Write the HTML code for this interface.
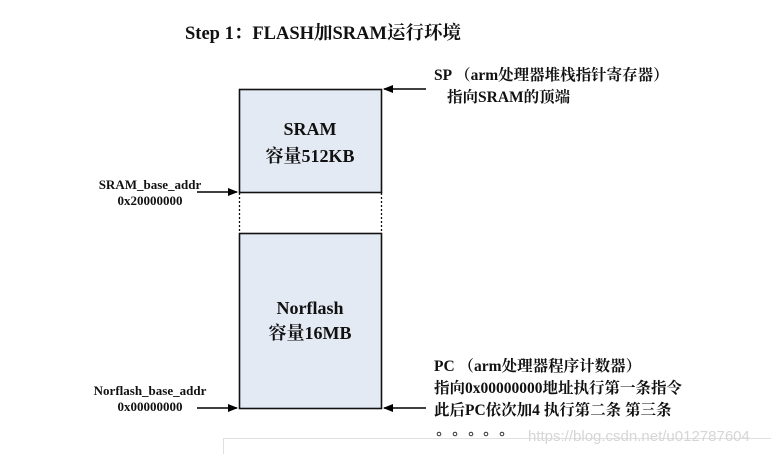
<!DOCTYPE html>
<html><head><meta charset="utf-8"><style>
html,body{margin:0;padding:0;background:#fff;}
svg text{font-family:"Liberation Serif","Noto Serif CJK SC",serif;font-weight:bold;fill:#111;}
</style></head><body>
<svg width="771" height="454" viewBox="0 0 771 454" xmlns="http://www.w3.org/2000/svg">
<defs><marker id="a" markerWidth="10" markerHeight="8" refX="9" refY="4" orient="auto" markerUnits="userSpaceOnUse"><path d="M0,0 L10,4 L0,8 Z" fill="#000"/></marker></defs>
<text x="185" y="39" font-size="18.5">Step 1：FLASH加SRAM运行环境</text>
<rect x="239.5" y="89.5" width="142" height="103" fill="#e4eaf4" stroke="#111" stroke-width="1.6"/>
<rect x="239.5" y="233.5" width="142" height="175" fill="#e4eaf4" stroke="#111" stroke-width="1.6"/>
<line x1="239.5" y1="193" x2="239.5" y2="233" stroke="#111" stroke-width="1.3" stroke-dasharray="2,2"/>
<line x1="381.5" y1="193" x2="381.5" y2="233" stroke="#111" stroke-width="1.3" stroke-dasharray="2,2"/>
<text x="310" y="135" font-size="18" text-anchor="middle">SRAM</text>
<text x="310" y="162" font-size="18" text-anchor="middle">容量512KB</text>
<text x="310" y="314" font-size="18" text-anchor="middle">Norflash</text>
<text x="310" y="339" font-size="18" text-anchor="middle">容量16MB</text>
<line x1="197" y1="192" x2="237" y2="192" stroke="#000" stroke-width="1.5" marker-end="url(#a)"/>
<line x1="197" y1="408" x2="237" y2="408" stroke="#000" stroke-width="1.5" marker-end="url(#a)"/>
<line x1="426" y1="89" x2="384" y2="89" stroke="#000" stroke-width="1.5" marker-end="url(#a)"/>
<line x1="426" y1="408" x2="384" y2="408" stroke="#000" stroke-width="1.5" marker-end="url(#a)"/>
<text x="150" y="189" font-size="13" text-anchor="middle">SRAM_base_addr</text>
<text x="150" y="205" font-size="13" text-anchor="middle">0x20000000</text>
<text x="150" y="395" font-size="13" text-anchor="middle">Norflash_base_addr</text>
<text x="150" y="411" font-size="13" text-anchor="middle">0x00000000</text>
<text x="434" y="80" font-size="15.5">SP （arm处理器堆栈指针寄存器）</text>
<text x="447" y="102" font-size="15.5">指向SRAM的顶端</text>
<text x="434" y="371" font-size="15.5">PC （arm处理器程序计数器）</text>
<text x="434" y="393" font-size="15.5">指向0x00000000地址执行第一条指令</text>
<text x="434" y="415" font-size="15.5">此后PC依次加4  执行第二条  第三条</text>
<g fill="none" stroke="#333" stroke-width="1"><circle cx="439" cy="434" r="1.8"/><circle cx="455" cy="434" r="1.8"/><circle cx="471" cy="434" r="1.8"/><circle cx="486" cy="434" r="1.8"/><circle cx="502" cy="434" r="1.8"/></g>
<path d="M223.5,454 L223.5,438.5 L771,438.5" fill="none" stroke="#e0e0e0"/>
<text x="528" y="441" font-size="15" style="font-family:'Liberation Sans',sans-serif;font-weight:normal;fill:#d6d6d6">https://blog.csdn.net/u012787604</text>
</svg>
</body></html>
